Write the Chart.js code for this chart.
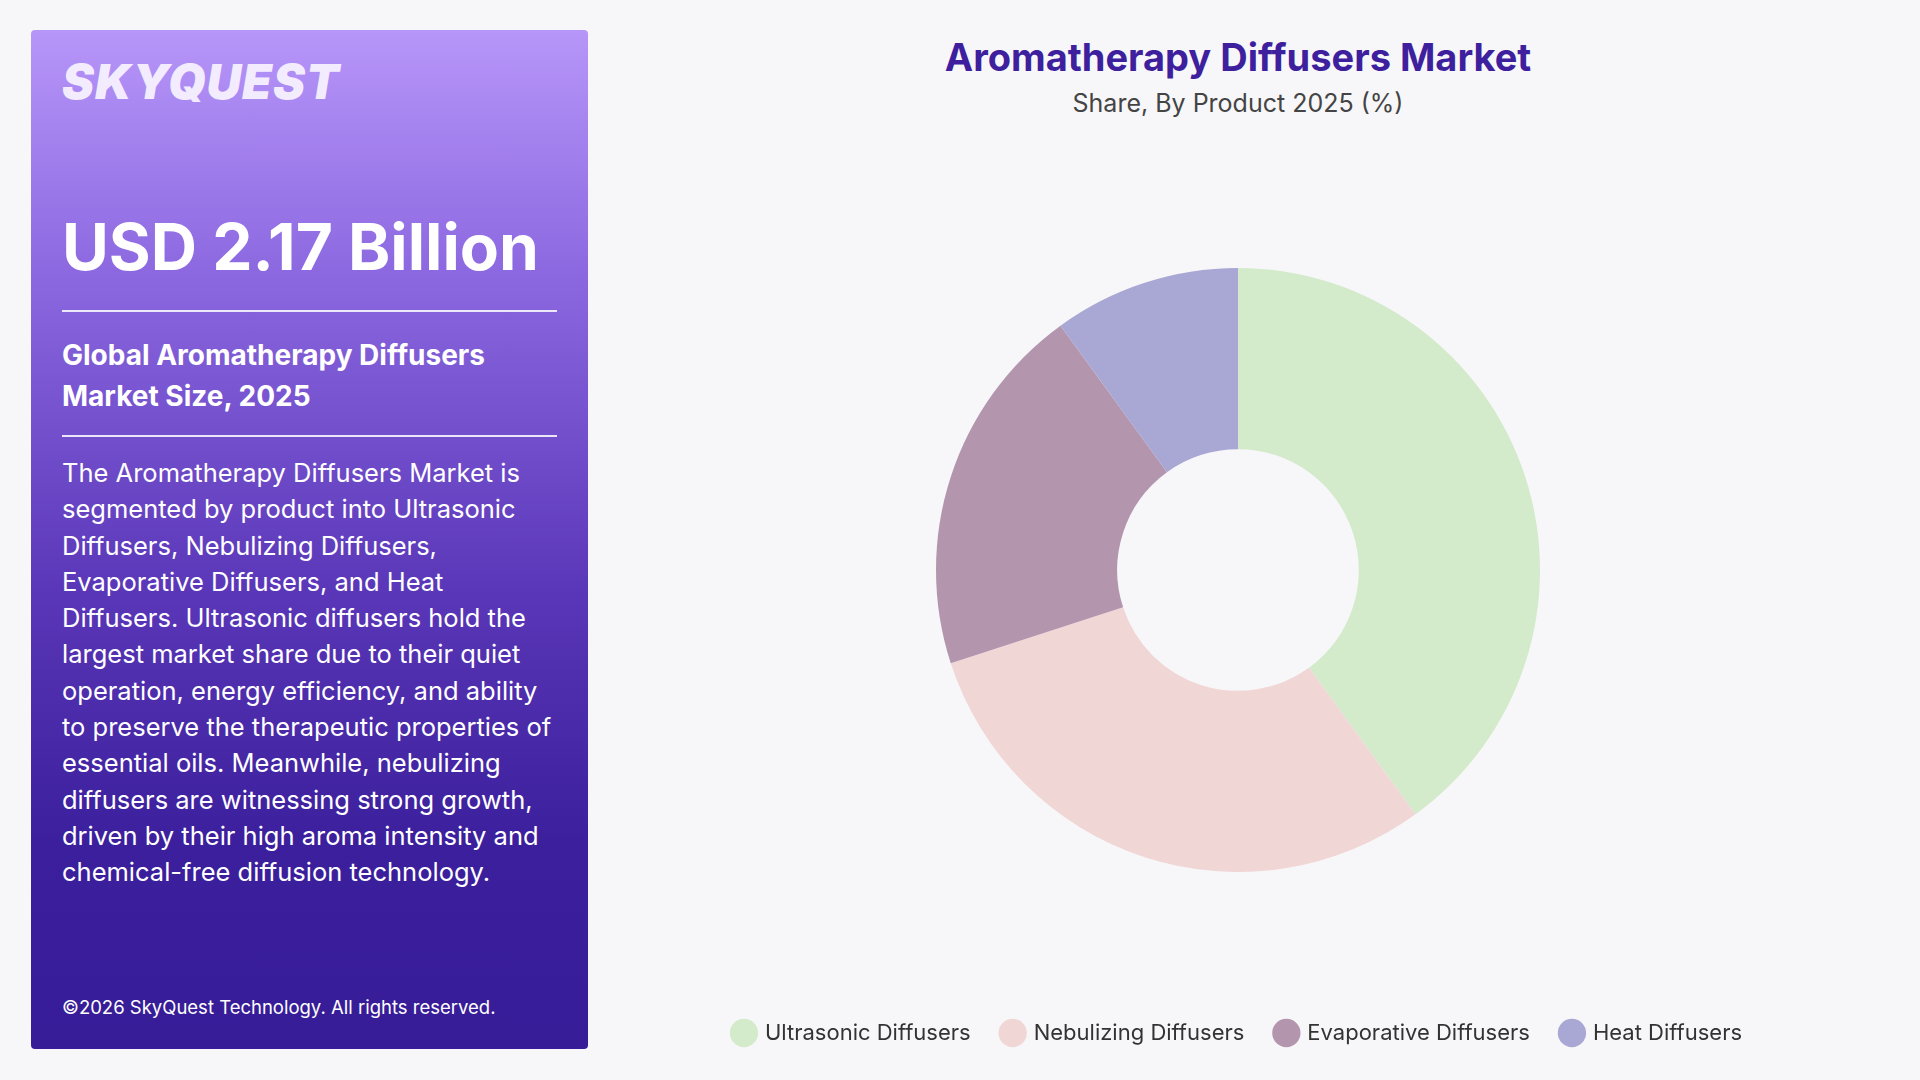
<!DOCTYPE html>
<html lang="en">
<head>
<meta charset="UTF-8">
<title>Aromatherapy Diffusers Market</title>
<script src="https://cdn.jsdelivr.net/npm/chart.js"></script>
<style>
  body { margin: 0; width: 1920px; height: 1080px; background: #f7f7f9; font-family: 'Inter', 'Open Sans', sans-serif; position: relative; overflow: hidden; }
  .panel { position: absolute; left: 31px; top: 30px; width: 557px; height: 1019px; border-radius: 4px;
    background: linear-gradient(180deg, #b796f9 0%, #8a66df 25%, #5a37b8 55%, #3b1f9c 80%, #371c98 100%); color: #fff; }
  .logo { position: absolute; left: 31px; top: 22px; font-size: 48px; font-weight: 900; font-style: italic; letter-spacing: 1px; color: #f3ecff; }
  .big { position: absolute; left: 31px; top: 178px; font-size: 64px; font-weight: 700; }
  .rule { position: absolute; left: 31px; width: 495px; border-top: 2px solid rgba(255,255,255,0.85); }
  .sub { position: absolute; left: 31px; top: 305px; font-size: 28px; font-weight: 700; line-height: 41px; }
  .desc { position: absolute; left: 31px; top: 425px; width: 495px; font-size: 25.5px; line-height: 36.3px; }
  .copy { position: absolute; left: 31px; top: 966px; font-size: 18.5px; }
  .title { position: absolute; left: 620px; width: 1236px; top: 34px; text-align: center; font-size: 38px; font-weight: 700; color: #3e1f9e; }
  .subtitle { position: absolute; left: 620px; width: 1236px; top: 88px; text-align: center; font-size: 25px; color: #444; }
  .chartbox { position: absolute; left: 620px; top: 150px; width: 1236px; height: 920px; }
</style>
</head>
<body>
<div class="panel">
  <div class="logo">SKYQUEST</div>
  <div class="big">USD 2.17 Billion</div>
  <div class="rule" style="top:280px"></div>
  <div class="sub">Global Aromatherapy Diffusers<br>Market Size, 2025</div>
  <div class="rule" style="top:405px"></div>
  <div class="desc">The Aromatherapy Diffusers Market is segmented by product into Ultrasonic Diffusers, Nebulizing Diffusers, Evaporative Diffusers, and Heat Diffusers. Ultrasonic diffusers hold the largest market share due to their quiet operation, energy efficiency, and ability to preserve the therapeutic properties of essential oils. Meanwhile, nebulizing diffusers are witnessing strong growth, driven by their high aroma intensity and chemical-free diffusion technology.</div>
  <div class="copy">©2026 SkyQuest Technology. All rights reserved.</div>
</div>
<div class="title">Aromatherapy Diffusers Market</div>
<div class="subtitle">Share, By Product 2025 (%)</div>
<div class="chartbox"><canvas id="c"></canvas></div>
<script>
const products = ['Ultrasonic Diffusers', 'Nebulizing Diffusers', 'Evaporative Diffusers', 'Heat Diffusers'];
const shares = [40, 30, 20, 10];
const colors = ['#d3eacb', '#f1d6d6', '#b495ae', '#a9a7d4'];

new Chart(document.getElementById('c'), {
  type: 'doughnut',
  data: { labels: products, datasets: [{ data: shares, backgroundColor: colors, borderWidth: 0, radius: 302 }] },
  options: {
    responsive: true, maintainAspectRatio: false, animation: false,
    cutout: '40%',
    layout: { padding: { top: 0, bottom: 16 } },
    plugins: {
      tooltip: { enabled: false },
      legend: { position: 'bottom', labels: { usePointStyle: true, pointStyle: 'circle', boxWidth: 20, boxHeight: 20, padding: 32,
        color: '#333', font: { family: 'Inter', size: 22 } } }
    }
  }
});
</script>
</body>
</html>
